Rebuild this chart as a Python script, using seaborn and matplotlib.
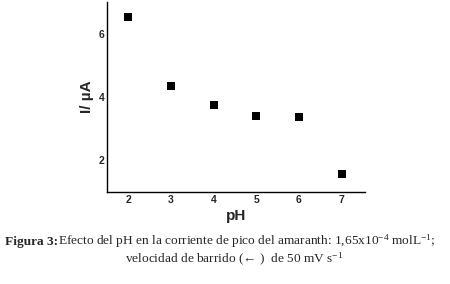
import matplotlib
matplotlib.use("Agg")
import matplotlib.pyplot as plt
import seaborn as sns
import pandas as pd

# data
ph = [2, 3, 4, 5, 6, 7]
corriente = [6.54, 4.35, 3.76, 3.40, 3.36, 1.56]
x_ticks = [2, 3, 4, 5, 6, 7]
y_ticks = [2, 4, 6]

df = pd.DataFrame({"pH": ph, "I": corriente})

sns.set_style("white")
plt.rcParams["font.family"] = ["Liberation Sans", "DejaVu Sans"]
plt.rcParams["mathtext.default"] = "regular"

fig = plt.figure(figsize=(4.5, 2.84), dpi=100)
ax = fig.add_axes([0.238, 0.324, 0.573, 0.669])

sns.scatterplot(data=df, x="pH", y="I", marker="s", color="black",
                s=28, edgecolor="black", linewidth=0, ax=ax)

ax.set_xlim(1.5, 7.55)
ax.set_ylim(1.0, 7.0)
ax.set_xticks(x_ticks)
ax.set_yticks(y_ticks)
ax.tick_params(length=0, labelsize=7.5, pad=2)
for lab in ax.get_xticklabels() + ax.get_yticklabels():
    lab.set_fontweight("bold")

sns.despine(ax=ax)
for sp in ["left", "bottom"]:
    ax.spines[sp].set_color("black")
    ax.spines[sp].set_linewidth(1.0)

ax.set_xlabel("pH", fontsize=11, fontweight="bold", labelpad=3)
ax.set_ylabel("I/ \u00b5A", fontsize=11, fontweight="bold", labelpad=3)

# caption
serif = ["Liberation Serif", "DejaVu Serif"]
fs = 9.6
t1 = fig.text(0.011, 0.137, "Figura 3:", fontsize=fs, fontweight="bold",
              family=serif, va="baseline", ha="left")
fig.canvas.draw()
bb = t1.get_window_extent().transformed(fig.transFigure.inverted())
fig.text(bb.x1, 0.137,
         "Efecto del pH en la corriente de pico del amaranth: 1,65x10$^{-4}$ molL$^{-1}$;",
         fontsize=fs, family=serif, va="baseline", ha="left")
fig.text(0.52, 0.074, "velocidad de barrido (\u2190 )  de 50 mV s$^{-1}$",
         fontsize=fs, family=serif, va="baseline", ha="center")

fig.savefig("out.png", dpi=100)
